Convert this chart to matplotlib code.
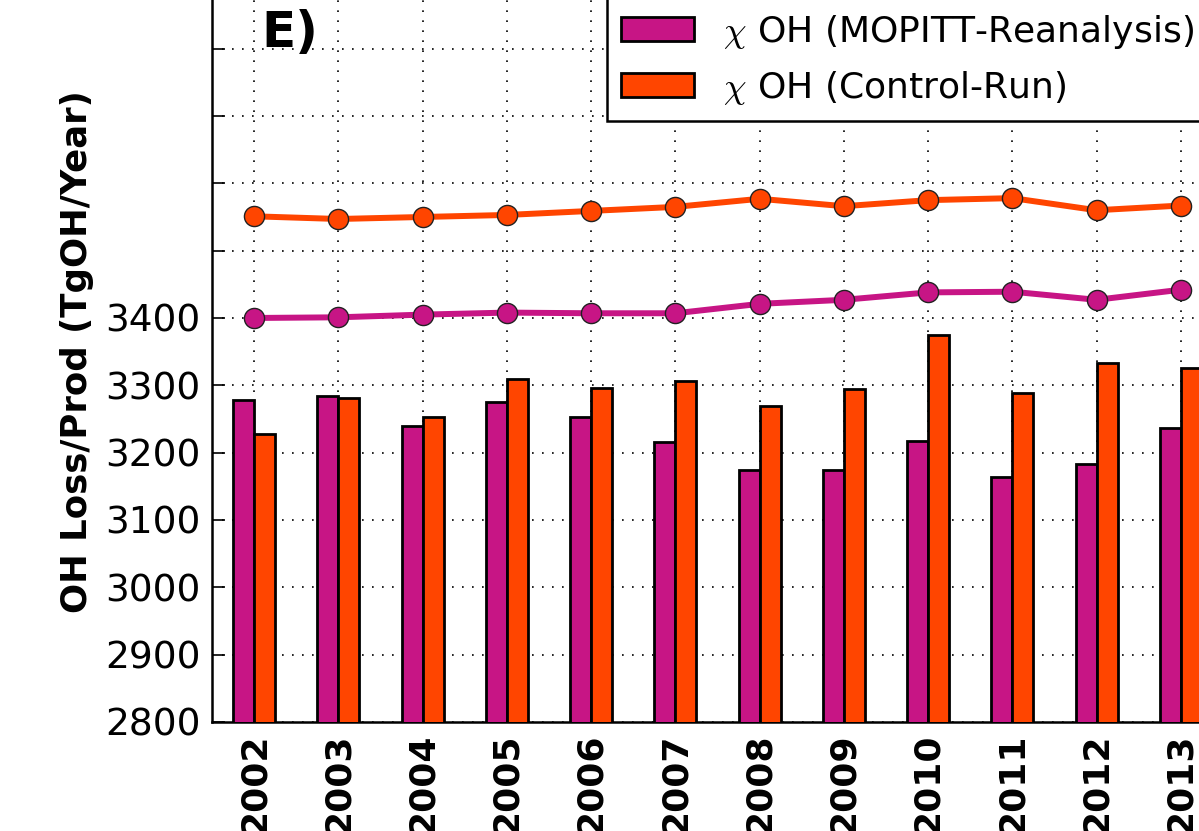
import matplotlib
matplotlib.use("Agg")
import matplotlib.pyplot as plt
import numpy as np

# data
years = [2002, 2003, 2004, 2005, 2006, 2007, 2008, 2009, 2010, 2011, 2012, 2013]
bar_mopitt = [3278, 3284, 3240, 3275, 3253, 3216, 3174, 3174, 3218, 3164, 3183, 3237]
bar_control = [3227, 3281, 3253, 3310, 3296, 3306, 3269, 3295, 3374, 3289, 3333, 3326]
line_mopitt = [3400, 3401, 3405, 3408, 3407, 3407, 3421, 3427, 3438, 3439, 3427, 3442]
line_control = [3551, 3547, 3550, 3553, 3559, 3565, 3577, 3566, 3575, 3578, 3560, 3567]
yticks = [2800, 2900, 3000, 3100, 3200, 3300, 3400, 3500, 3600, 3700, 3800]
labels = [r"$\chi$ OH (MOPITT-Reanalysis)", r"$\chi$ OH (Control-Run)"]

c_mop = "#C71585"
c_ctl = "#FF4500"

plt.rcParams["mathtext.fontset"] = "cm"
plt.rcParams["font.family"] = "DejaVu Sans"

W, H = 1199, 831
fig = plt.figure(figsize=(W / 100, H / 100), dpi=100)
ax = fig.add_axes([212 / W, (H - 722) / H, (1223 - 212) / W, 740.7 / H])

x = np.arange(len(years))
width = 0.25
b1 = ax.bar(x - width, bar_mopitt, width, align="edge", color=c_mop,
            edgecolor="black", linewidth=2, zorder=3)
b2 = ax.bar(x, bar_control, width, align="edge", color=c_ctl,
            edgecolor="black", linewidth=2, zorder=3)

ax.plot(x, line_mopitt, "-o", color=c_mop, lw=4.3, ms=14.5,
        mec="#222222", mew=1.0, zorder=4)
ax.plot(x, line_control, "-o", color=c_ctl, lw=4.3, ms=14.5,
        mec="#222222", mew=1.0, zorder=4)

ax.set_xlim(-0.5, 11.5)
ax.set_ylim(2800, 3900)
ax.set_xticks(x)
ax.set_xticklabels([str(y) for y in years], rotation=90, fontsize=26,
                   fontweight="bold")
ax.set_yticks(yticks)
ax.set_yticklabels([str(t) if t <= 3400 else "" for t in yticks], fontsize=27)
ax.tick_params(axis="both", direction="in", length=9, width=1.2, pad=8)
ax.grid(True, color="black", linestyle=(0, (1, 5)), linewidth=1.2, zorder=0)
ax.set_axisbelow(True)
for s in ax.spines.values():
    s.set_linewidth(1.8)

fig.text(77 / W, 1 - 352 / H, "OH Loss/Prod (TgOH/Year)", rotation=90,
         ha="center", va="center", fontsize=25.6, fontweight="bold")
fig.text(261 / W, 1 - 33 / H, "E)", fontsize=36, fontweight="bold",
         ha="left", va="center")

leg = fig.legend([b1, b2], labels, loc="upper left",
                 bbox_to_anchor=(607 / W, 1.002), borderaxespad=0,
                 fontsize=26, handlelength=2.0, handleheight=0.65,
                 handletextpad=0.8, labelspacing=0.5, borderpad=0.4,
                 fancybox=False, edgecolor="black", framealpha=1)
leg.get_frame().set_linewidth(1.8)

fig.savefig("out.png", dpi=100)
